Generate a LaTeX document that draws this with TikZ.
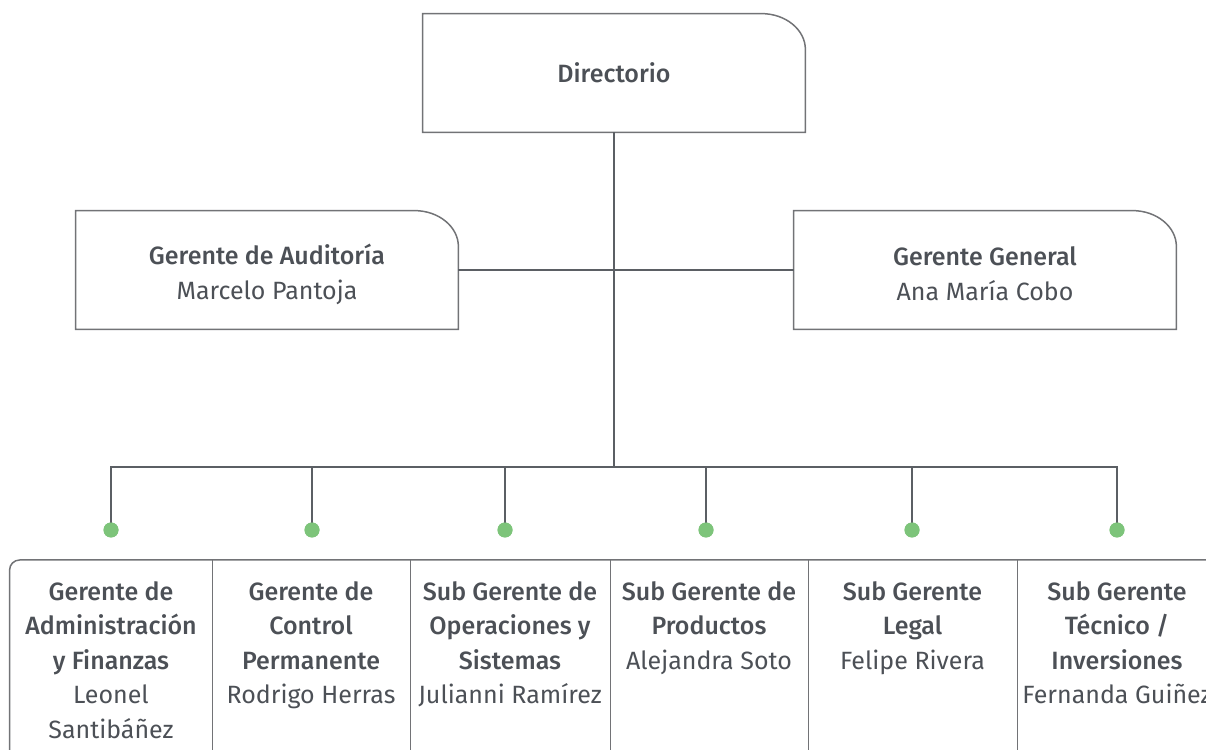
\documentclass[tikz,border=0pt]{standalone}
\usepackage{fontspec}
\setmainfont{Fira Sans}[BoldFont={Fira Sans Medium}]
\usetikzlibrary{positioning}
\definecolor{linegray}{HTML}{5B5F64}
\definecolor{boxgray}{HTML}{727376}
\definecolor{textgray}{HTML}{4C5056}
\definecolor{dotgreen}{HTML}{7DC47A}

\begin{document}
\begin{tikzpicture}[x=0.5pt,y=0.5pt,
		card/.style={inner sep=0pt,minimum width=191pt,minimum height=59pt},
		cardtext/.style={inner sep=0pt,align=center,text=textgray,
			font=\fontsize{12.5}{17.5}\selectfont},
		cell/.style={inner sep=0pt,minimum height=110pt,anchor=north},
		celltext/.style={inner sep=0pt,anchor=north,align=center,text=textgray,
			font=\fontsize{12.5}{17.25}\selectfont},
		boxline/.style={draw=boxgray,line width=0.75pt},
		wire/.style={draw=linegray,line width=1pt},
		dot/.style={circle,fill=dotgreen,inner sep=0pt,minimum size=7.5pt}]
		\useasboundingbox (0,0) rectangle (1206,750);

		% upper boxes
		\node[card] (dir) at (614,677) {};
		\node[card] (aud) at (267,480) {};
		\node[card] (gen) at (985,480) {};
		\foreach \b in {dir,aud,gen}
			\draw[boxline] (\b.south west) -- (\b.north west) -- ([xshift=-22pt]\b.north east)
				arc[start angle=90,end angle=0,x radius=22pt,y radius=18pt] -- (\b.south east) -- cycle;
		\node[cardtext] (dirtext) at (dir) {\textbf{Directorio}};
		\node[cardtext] (audtext) at ([yshift=-2pt]aud.center) {\textbf{Gerente de Auditoría}\\Marcelo Pantoja};
		\node[cardtext] (gentext) at ([yshift=-2pt]gen.center) {\textbf{Gerente General}\\Ana María Cobo};

		% lower row
		\node[cell,minimum width=101pt] (c1) at (111,190) {};
		\node[cell,minimum width=99pt] (c2) at (311,190) {};
		\node[cell,minimum width=100pt] (c3) at (510,190) {};
		\node[cell,minimum width=99pt] (c4) at (709,190) {};
		\node[cell,minimum width=104.5pt] (c5) at (912.5,190) {};
		\node[cell,minimum width=100pt] (c6) at (1117,190) {};
		\draw[boxline] (c1.south west) -- ([yshift=-5pt]c1.north west)
			arc[start angle=180,end angle=90,radius=5pt] -- (c6.north east) -- (c6.south east);
		\foreach \c in {c1,c2,c3,c4,c5}
			\draw[boxline] (\c.north east) -- (\c.south east);

		\node[celltext] (t1) at ([yshift=-10.5pt]c1.north) {\textbf{Gerente de}\\\textbf{Administración}\\\textbf{y Finanzas}\\Leonel\\Santibáñez};
		\node[celltext] (t2) at ([yshift=-10.5pt]c2.north) {\textbf{Gerente de}\\\textbf{Control}\\\textbf{Permanente}\\Rodrigo Herras};
		\node[celltext] (t3) at ([yshift=-10.5pt]c3.north) {\textbf{Sub Gerente de}\\\textbf{Operaciones y}\\\textbf{Sistemas}\\Julianni Ramírez};
		\node[celltext] (t4) at ([yshift=-10.5pt]c4.north) {\textbf{Sub Gerente de}\\\textbf{Productos}\\Alejandra Soto};
		\node[celltext] (t5) at ([yshift=-10.5pt]c5.north) {\textbf{Sub Gerente}\\\textbf{Legal}\\Felipe Rivera};
		\node[celltext] (t6) at ([yshift=-10.5pt]c6.north) {\textbf{Sub Gerente}\\\textbf{Técnico /}\\\textbf{Inversiones}\\Fernanda Guiñez};

		% connectors
		\coordinate (bus) at (614,283);
		\draw[wire] (dir) -- (bus);
		\draw[wire] (aud.east) -- (gen.west);
		\node[dot] (d1) at (111,220) {};
		\node[dot] (d2) at (312,220) {};
		\node[dot] (d3) at (505,220) {};
		\node[dot] (d4) at (706,220) {};
		\node[dot] (d5) at (912,220) {};
		\node[dot] (d6) at (1117,220) {};
		\draw[wire] (d1.center) |- (bus) -| (d6.center);
		\foreach \d in {d2,d3,d4,d5}
			\draw[wire] (\d.center) -- (\d |- bus);
		\foreach \d in {d1,d2,d3,d4,d5,d6}
			\node[dot] at (\d) {};
	\end{tikzpicture}
\end{document}
